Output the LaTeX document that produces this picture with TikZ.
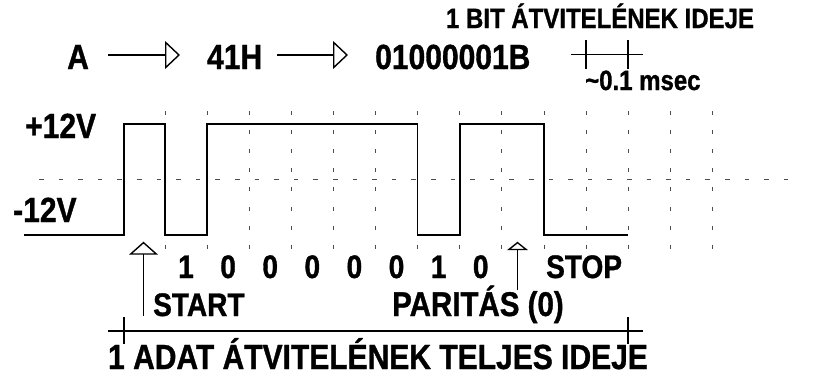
\documentclass[tikz,border=0pt]{standalone}
\usepackage{fontspec}
\setmainfont{Liberation Sans}
\newfontfamily\cf[FakeStretch=0.86, BoldFeatures={FakeBold=1}]{Liberation Sans}
\usetikzlibrary{arrows.meta}
\begin{document}
\begin{tikzpicture}[x=1pt,y=-1pt,
  txt/.style={font=\cf\bfseries\fontsize{32.6}{35}\selectfont, inner sep=0pt},
  big/.style={font=\cf\bfseries\fontsize{34.9}{37}\selectfont, inner sep=0pt},
  small/.style={font=\cf\bfseries\fontsize{27.9}{30}\selectfont, inner sep=0pt},
  wave/.style={line width=1.7pt, line join=miter},
  gridv/.style={black!70, line width=0.7pt, dash pattern=on 4pt off 15.1pt},
  gridh/.style={black!70, line width=0.7pt, dash pattern=on 4.5pt off 15.1pt},
  conn/.style={line width=1.4pt},
  openhead/.style={-{Triangle[open,length=15pt,width=28pt]}},
  upbig/.style={-{Triangle[open,length=13pt,width=29pt]}},
  upsmall/.style={-{Triangle[open,length=8.5pt,width=21pt]}}
]
\useasboundingbox (0,0) rectangle (815,376);

% grid
\foreach \k in {0,...,13}
  \draw[gridv] (165+42.1*\k,111) -- (165+42.1*\k,249);
\draw[gridh] (39,179.3) -- (803,179.3);

% waveform
\draw[wave] (24,235) -- (124,235) -- (124,124) -- (165,124) -- (165,235)
  -- (207.1,235) -- (207.1,124) -- (417.6,124) -- (417.6,235) -- (459.7,235)
  -- (459.7,124) -- (543.9,124) -- (543.9,235) -- (628.1,235);

% top row
\node[big, anchor=base west] (A) at (67,69) {A};
\node[big, anchor=base west] (h41) at (207,69) {41H};
\node[big, anchor=base west] (bin) at (375,69) {01000001B};
\coordinate (a1s) at (108,55);
\coordinate (a1e) at (180,55);
\coordinate (a2s) at (277,55);
\coordinate (a2e) at (348,55);
\draw[conn, openhead] (a1s) -- (a1e);
\draw[conn, openhead] (a2s) -- (a2e);

% one bit time marker
\node[small, anchor=base] (bit) at (600,28) {1 BIT ÁTVITELÉNEK IDEJE};
\node[small, anchor=base west] (ms) at (585,90) {\textasciitilde0.1 msec};
\coordinate (b1) at (571,54.5);
\coordinate (b2) at (643,54.5);
\draw[conn] (b1) -- (b2);
\draw[conn] (586,40) -- (586,69);
\draw[conn] (628.1,40) -- (628.1,69);

% levels
\node[big, anchor=base west] (p12) at (25,138) {+12V};
\node[big, anchor=base west] (m12) at (13,222) {-12V};

% bits
\foreach \d [count=\i from 0] in {1,0,0,0,0,0,1,0}
  \node[txt, anchor=base] (d\i) at (165+42.1*\i+21,278) {\d};
\node[txt, anchor=base west] (stop) at (546,278) {STOP};

% start / parity arrows
\coordinate (s0) at (143.5,316);
\coordinate (s1) at (143.5,241.7);
\draw[conn, upbig] (s0) -- (s1);
\coordinate (q0) at (517.5,290);
\coordinate (q1) at (517.5,241.7);
\draw[conn, upsmall] (q0) -- (q1);
\node[txt, anchor=base west] (start) at (153,316) {START};
\node[font=\cf\bfseries\fontsize{34.3}{37}\selectfont, inner sep=0pt, anchor=base west] (par) at (392,316) {PARITÁS (0)};

% total time
\coordinate (t1) at (108,331);
\coordinate (t2) at (643,331);
\draw[conn] (t1) -- (t2);
\draw[conn] (124,317) -- (124,344);
\draw[conn] (628.1,317) -- (628.1,344);
\node[big, anchor=base] (total) at (378,369) {1 ADAT ÁTVITELÉNEK TELJES IDEJE};
\end{tikzpicture}
\end{document}
